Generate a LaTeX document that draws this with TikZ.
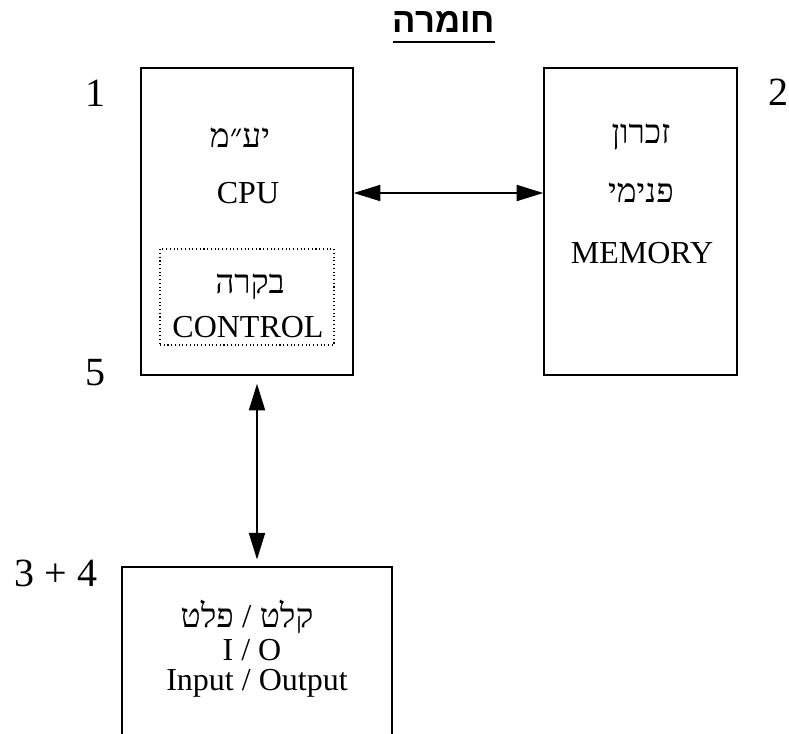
\documentclass[tikz,border=0pt]{standalone}
\usepackage{fontspec}
\setmainfont{Liberation Serif}
\newfontfamily\heb[Script=Hebrew]{Liberation Serif}
\newfontfamily\hebsans[Script=Hebrew]{Liberation Sans}
\TeXXeTstate=1
\usetikzlibrary{arrows.meta}
\tikzset{
  box/.style={draw, line width=1.1pt, inner sep=0pt},
  dotbox/.style={draw, dotted, line width=0.8pt, inner sep=0pt},
  txt/.style={inner sep=0pt, font=\fontsize{24}{28}\selectfont},
  htxt/.style={inner sep=0pt, font=\heb\fontsize{25}{28}\selectfont},
  num/.style={inner sep=0pt, font=\fontsize{30}{34}\selectfont},
  arr/.style={line width=1.5pt, {Triangle[length=20pt,width=12pt]}-{Triangle[length=20pt,width=12pt]}}
}
\begin{document}
\begin{tikzpicture}[x=0.75pt,y=-0.75pt]
\useasboundingbox (0,0) rectangle (789,733);
\clip (0,0) rectangle (789,733);
% title
\node[inner sep=0pt, font=\hebsans\bfseries\fontsize{26}{30}\selectfont] (title) at (444,22) {\beginR חומרה\endR};
\draw[line width=2.2pt] (title.south west |- 0,42) -- (title.south east |- 0,42);
% boxes
\node[box, minimum width=159pt, minimum height=230.25pt] (cpu) at (247,221.5) {};
\node[box, minimum width=144.75pt, minimum height=230.25pt] (mem) at (640.5,221.5) {};
\node[dotbox, minimum width=130.5pt, minimum height=72pt] (ctl) at (247,297) {};
\node[box, minimum width=202.5pt, minimum height=150pt] (io) at (257,667) {};
% CPU texts
\node[htxt] (cpuh) at (240,138) {\beginR יע״מ\endR};
\node[txt] (cputxt) at (248,193) {CPU};
\node[htxt] (ctlh) at (250,287) {\beginR בקרה\endR};
\node[txt] (ctltxt) at (248,327) {CONTROL};
% memory texts
\node[htxt] (memh1) at (641,137) {\beginR זכרון\endR};
\node[htxt] (memh2) at (641,193) {\beginR פנימי\endR};
\node[txt] (memtxt) at (642,253) {MEMORY};
% io texts
\node[htxt] (ioh) at (247,617) {\beginR קלט / פלט\endR};
\node[txt] (iotxt1) at (252,650) {I / O};
\node[txt] (iotxt2) at (257,683) {Input / Output};
% numbers
\node[num] (n1) at (95,93) {1};
\node[num] (n2) at (778,92) {2};
\node[num] (n5) at (95,373) {5};
\node[num] (n34) at (56,573) {3 + 4};
% arrows
\draw[arr] (cpu.east |- cputxt) -- (mem.west |- cputxt);
\draw[arr] ([yshift=-6pt]cpu.south -| io.north) -- ([yshift=5pt]io.north);
\end{tikzpicture}
\end{document}
